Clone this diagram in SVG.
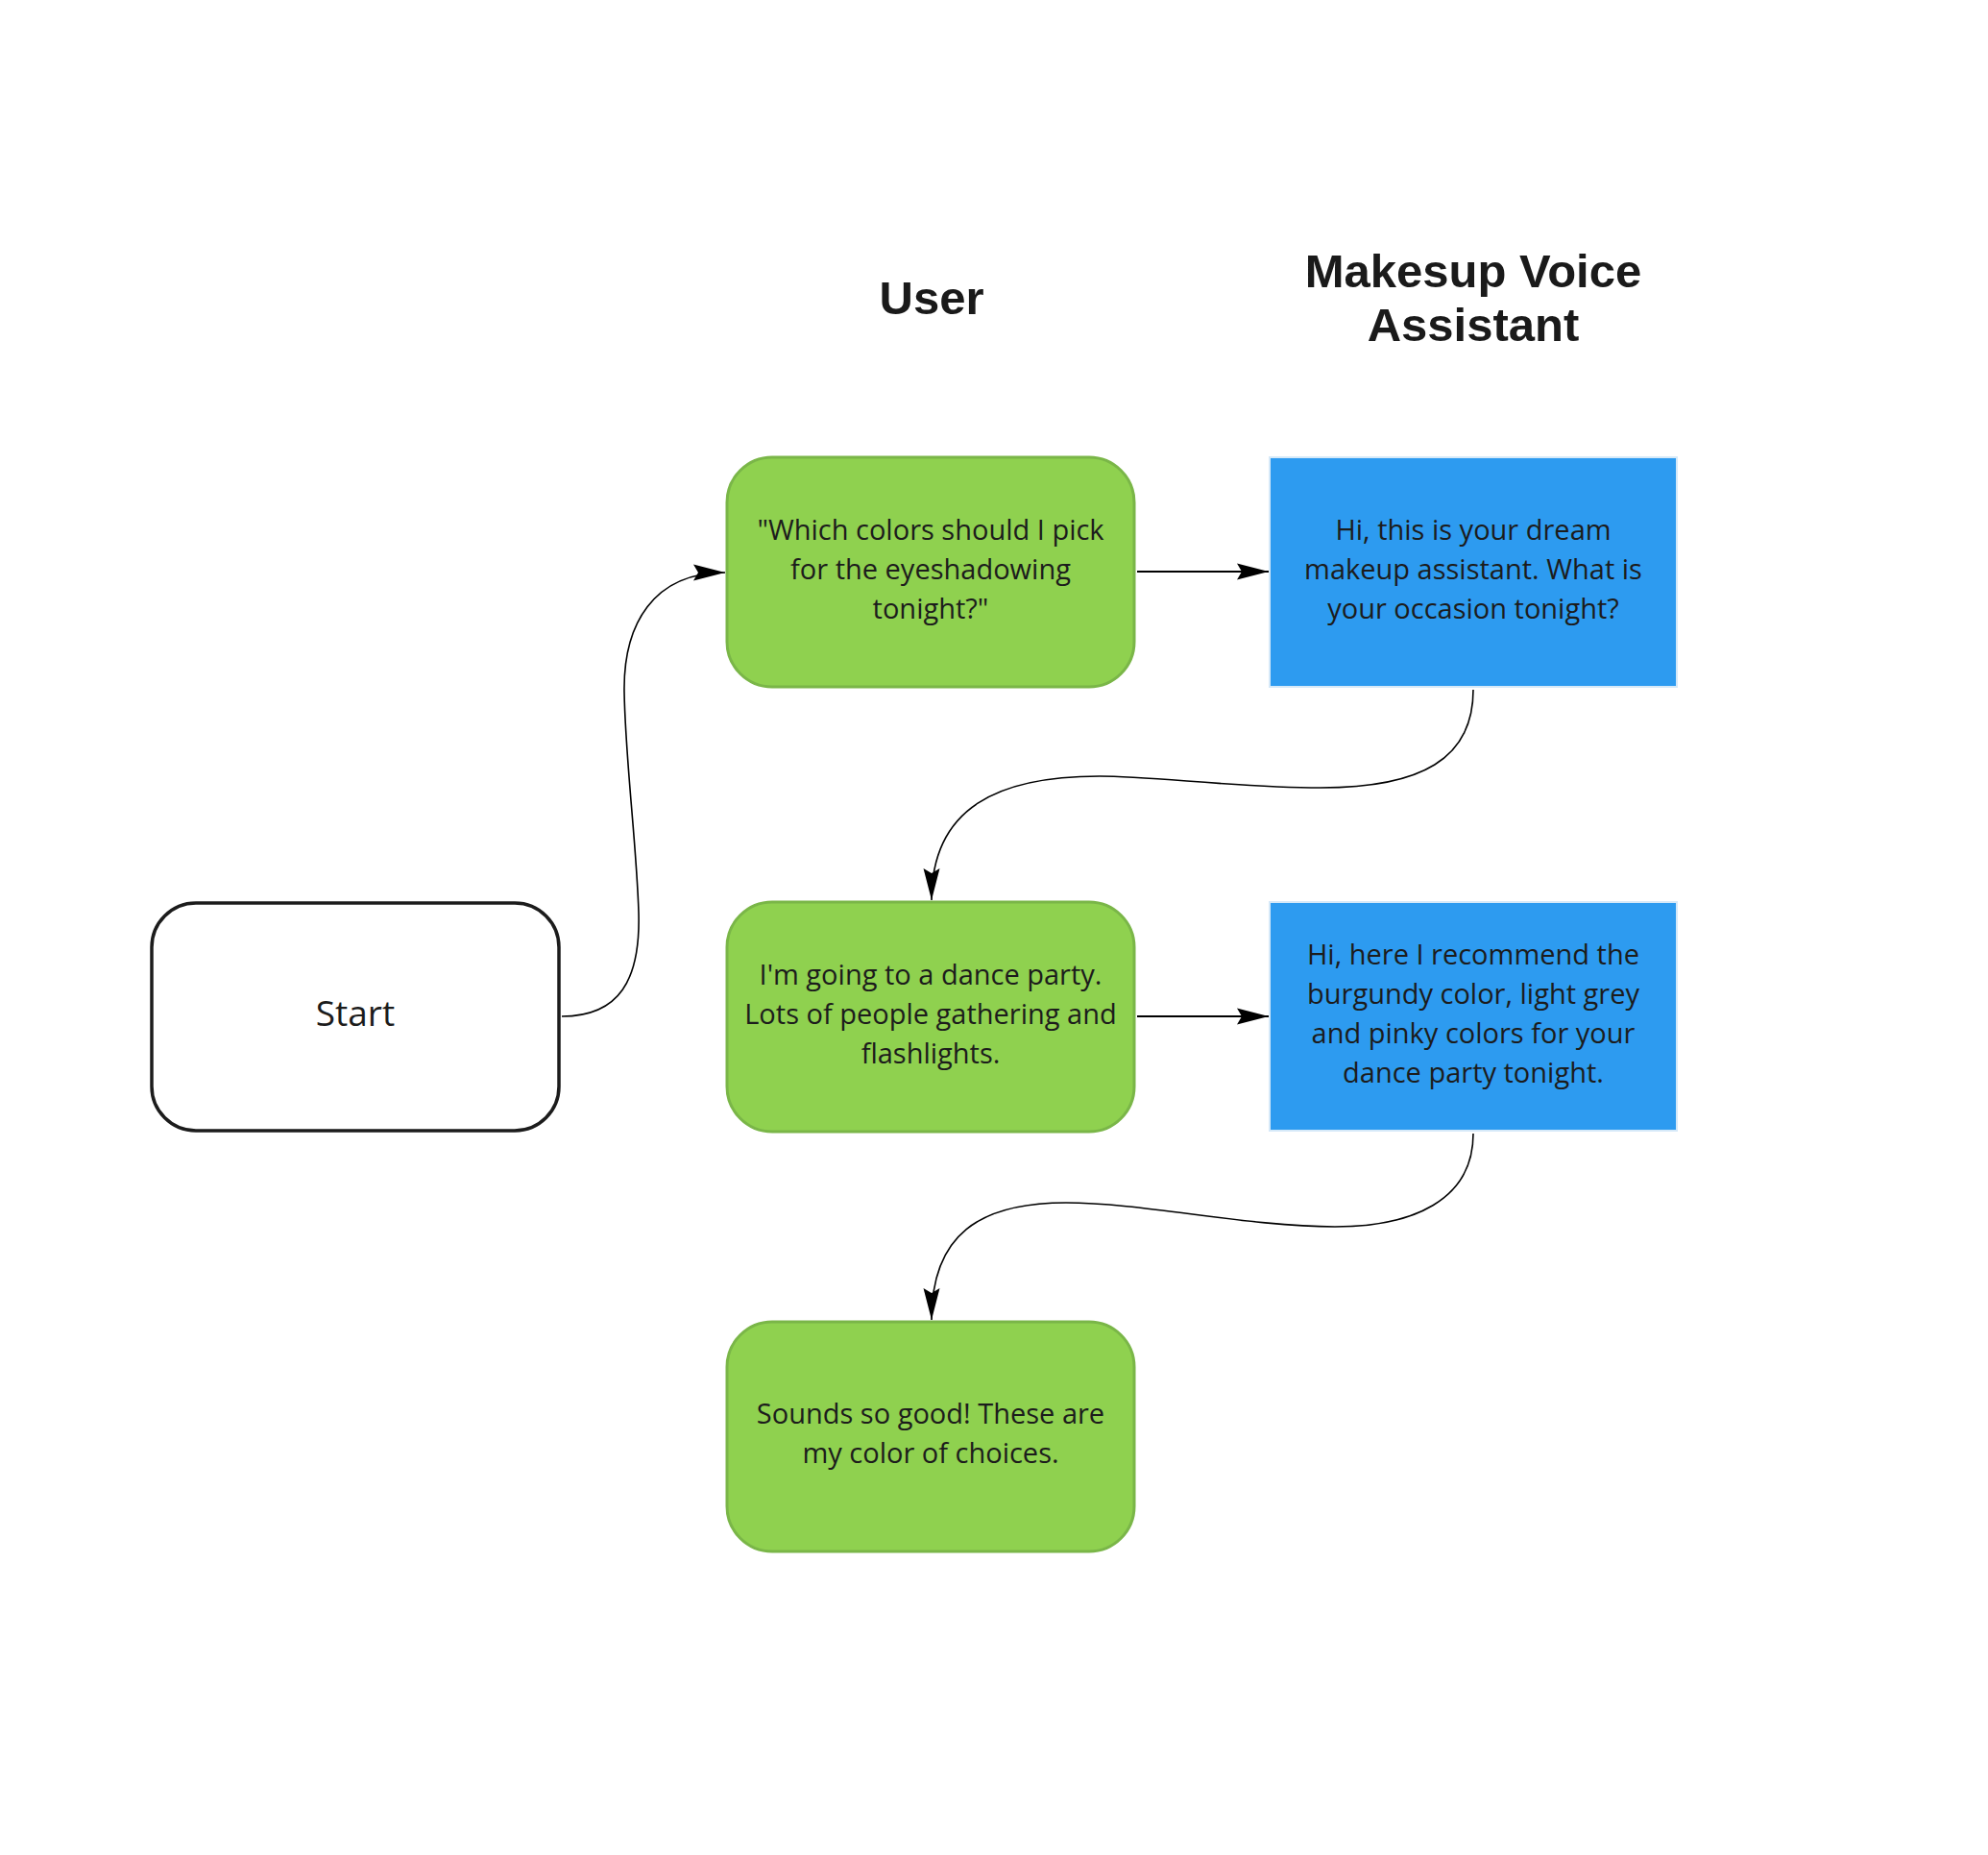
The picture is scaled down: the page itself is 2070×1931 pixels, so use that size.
<svg xmlns="http://www.w3.org/2000/svg" width="2070" height="1931" viewBox="0 0 2070 1931">
<style>
.title{font-family:"Liberation Sans",Arial,sans-serif;font-weight:bold;font-size:49px;fill:#1a1a1a;text-anchor:middle}
.body{font-family:"Open Sans","Noto Sans",sans-serif;font-size:29px;fill:#1c1c1c;text-anchor:middle}
.start{font-family:"Open Sans","Noto Sans",sans-serif;font-size:37px;fill:#1c1c1c;text-anchor:middle}
.green{fill:#8fd14f;stroke:#7ab648;stroke-width:3}
.blue{fill:#2d9bf0;stroke:#d6e9f8;stroke-width:2}
.startbox{fill:#ffffff;stroke:#1c1c1c;stroke-width:3.5}
.conn{fill:none;stroke:#000;stroke-width:1.6}
.straight{fill:none;stroke:#000;stroke-width:2}
</style>
<defs>
<marker id="arr" viewBox="-34 -10 36 20" refX="0" refY="0" markerWidth="36" markerHeight="20" markerUnits="userSpaceOnUse" orient="auto">
<path d="M0,0 L-33,-8.5 L-28,0 L-33,8.5 Z" fill="#000"/>
</marker>
</defs>
<rect width="2070" height="1931" fill="#ffffff"/>
<g id="title-user"><text class="title" x="970" y="327">User</text></g>
<g id="title-assistant"><text class="title" x="1534" y="299">Makesup Voice</text><text class="title" x="1534" y="355">Assistant</text></g>
<g id="connectors">
<path class="conn" d="M585,1058 C645,1058 667,1020 665,950 C663,880 651,790 650,720 C649,650 680,596 755,596" marker-end="url(#arr)"/>
<path class="straight" d="M1184,595 L1321,595" marker-end="url(#arr)"/>
<path class="conn" d="M1534,718 C1534,790 1480,820 1375,820 C1290,820 1200,808 1145,808 C1040,808 970,840 970,937" marker-end="url(#arr)"/>
<path class="straight" d="M1184,1058 L1321,1058" marker-end="url(#arr)"/>
<path class="conn" d="M1534,1180 C1534,1250 1470,1277 1390,1277 C1300,1277 1190,1252 1110,1252 C1020,1252 970,1285 970,1374" marker-end="url(#arr)"/>
</g>
<g id="start">
<rect class="startbox" x="158" y="940" width="424" height="237" rx="46" ry="46"/>
<text class="start" x="370" y="1068">Start</text>
</g>
<g id="user1">
<rect class="green" x="757" y="476" width="424" height="239" rx="47" ry="47"/>
<text class="body" x="969" y="562">"Which colors should I pick</text>
<text class="body" x="969" y="603">for the eyeshadowing</text>
<text class="body" x="969" y="644">tonight?"</text>
</g>
<g id="assistant1">
<rect class="blue" x="1322" y="476" width="424" height="239"/>
<text class="body" x="1534" y="562">Hi, this is your dream</text>
<text class="body" x="1534" y="603">makeup assistant. What is</text>
<text class="body" x="1534" y="644">your occasion tonight?</text>
</g>
<g id="user2">
<rect class="green" x="757" y="939" width="424" height="239" rx="47" ry="47"/>
<text class="body" x="969" y="1025">I'm going to a dance party.</text>
<text class="body" x="969" y="1066">Lots of people gathering and</text>
<text class="body" x="969" y="1107">flashlights.</text>
</g>
<g id="assistant2">
<rect class="blue" x="1322" y="939" width="424" height="238"/>
<text class="body" x="1534" y="1004">Hi, here I recommend the</text>
<text class="body" x="1534" y="1045">burgundy color, light grey</text>
<text class="body" x="1534" y="1086">and pinky colors for your</text>
<text class="body" x="1534" y="1127">dance party tonight.</text>
</g>
<g id="user3">
<rect class="green" x="757" y="1376" width="424" height="239" rx="47" ry="47"/>
<text class="body" x="969" y="1482">Sounds so good! These are</text>
<text class="body" x="969" y="1523">my color of choices.</text>
</g>
</svg>
